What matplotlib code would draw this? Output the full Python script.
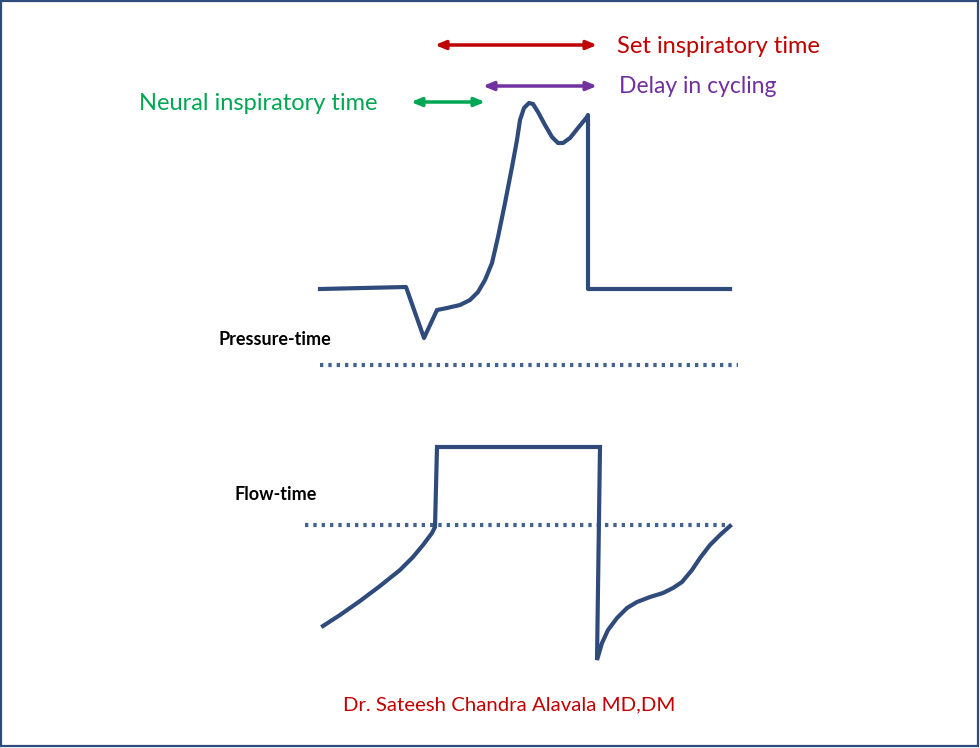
import matplotlib
matplotlib.use('Agg')
import matplotlib.pyplot as plt

plt.rcParams['font.family'] = ['Lato', 'DejaVu Sans']

# ── colours ───────────────────────────────────────────────────────────────────
WAVE   = '#2F4B7C'
DOTS   = '#44628F'
RED    = '#C00000'
PURPLE = '#7030A0'
GREEN  = '#00A651'
FRAME  = '#2F4B7C'

W, H = 980, 748

# ── data (canvas pixels, y downwards) ────────────────────────────────────────
press_t = [320, 406, 424, 437, 447, 460, 470, 478, 485, 492, 498, 505, 512,
           517, 520, 524, 529, 533, 538, 545, 552, 558, 563, 570, 578, 587,
           588, 588, 730]
press_v = [289, 287, 338, 310, 308, 305, 300, 292, 280, 263, 237, 203, 167,
           140, 120, 108, 103, 104, 112, 125, 137, 143, 143, 138, 128, 117,
           115, 289, 289]

flow_t = [323, 340, 360, 380, 400, 413, 423, 432, 435, 437, 600, 597, 602,
          608, 617, 627, 637, 650, 663, 673, 682, 692, 700, 710, 720, 730]
flow_v = [626, 615, 601, 586, 570, 557, 545, 533, 527, 447, 447, 660, 643,
          630, 618, 608, 602, 597, 593, 588, 582, 570, 558, 545, 535, 526]

pressure_zero = 365
flow_zero = 525

arrows = [
    # x0, x1, y, colour
    (435, 597, 45, RED),
    (483, 597, 86, PURPLE),
    (411, 485, 102, GREEN),
]

fig = plt.figure(figsize=(W / 100, H / 100), dpi=100)
ax = fig.add_axes([0, 0, 1, 1])
ax.set_xlim(0, W)
ax.set_ylim(H, 0)
ax.axis('off')

# frame
ax.add_patch(plt.Rectangle((1, 1), W - 3, H - 3, fill=False,
                           edgecolor=FRAME, linewidth=1.6))

# zero lines
ax.plot([320, 738], [pressure_zero, pressure_zero], color=DOTS, lw=3,
        linestyle=(0, (0.8, 1.2)), solid_capstyle='butt')
ax.plot([305, 730], [flow_zero, flow_zero], color=DOTS, lw=3,
        linestyle=(0, (0.8, 1.2)), solid_capstyle='butt')

# waveforms
ax.plot(press_t, press_v, color=WAVE, lw=3, solid_joinstyle='round')
ax.plot(flow_t, flow_v, color=WAVE, lw=3, solid_joinstyle='miter')

# double arrows
for x0, x1, y, c in arrows:
    ax.annotate('', xy=(x1, y), xytext=(x0, y),
                arrowprops=dict(arrowstyle='<|-|>,head_length=0.6,head_width=0.25',
                                color=c, lw=2.5, shrinkA=0, shrinkB=0))

# labels
ax.text(617, 46, 'Set inspiratory time', color=RED, fontsize=17,
        ha='left', va='center')
ax.text(619, 86, 'Delay in cycling', color=PURPLE, fontsize=16.5,
        ha='left', va='center')
ax.text(139, 103, 'Neural inspiratory time', color=GREEN, fontsize=17,
        ha='left', va='center')
ax.text(218, 339, 'Pressure-time', color='black', fontsize=13,
        fontweight='bold', ha='left', va='center')
ax.text(234, 494, 'Flow-time', color='black', fontsize=13,
        fontweight='bold', ha='left', va='center')
ax.text(343, 705, 'Dr. Sateesh Chandra Alavala MD,DM', color=RED,
        fontsize=14.7, ha='left', va='center')

fig.savefig('out.png', dpi=100, facecolor='white')
